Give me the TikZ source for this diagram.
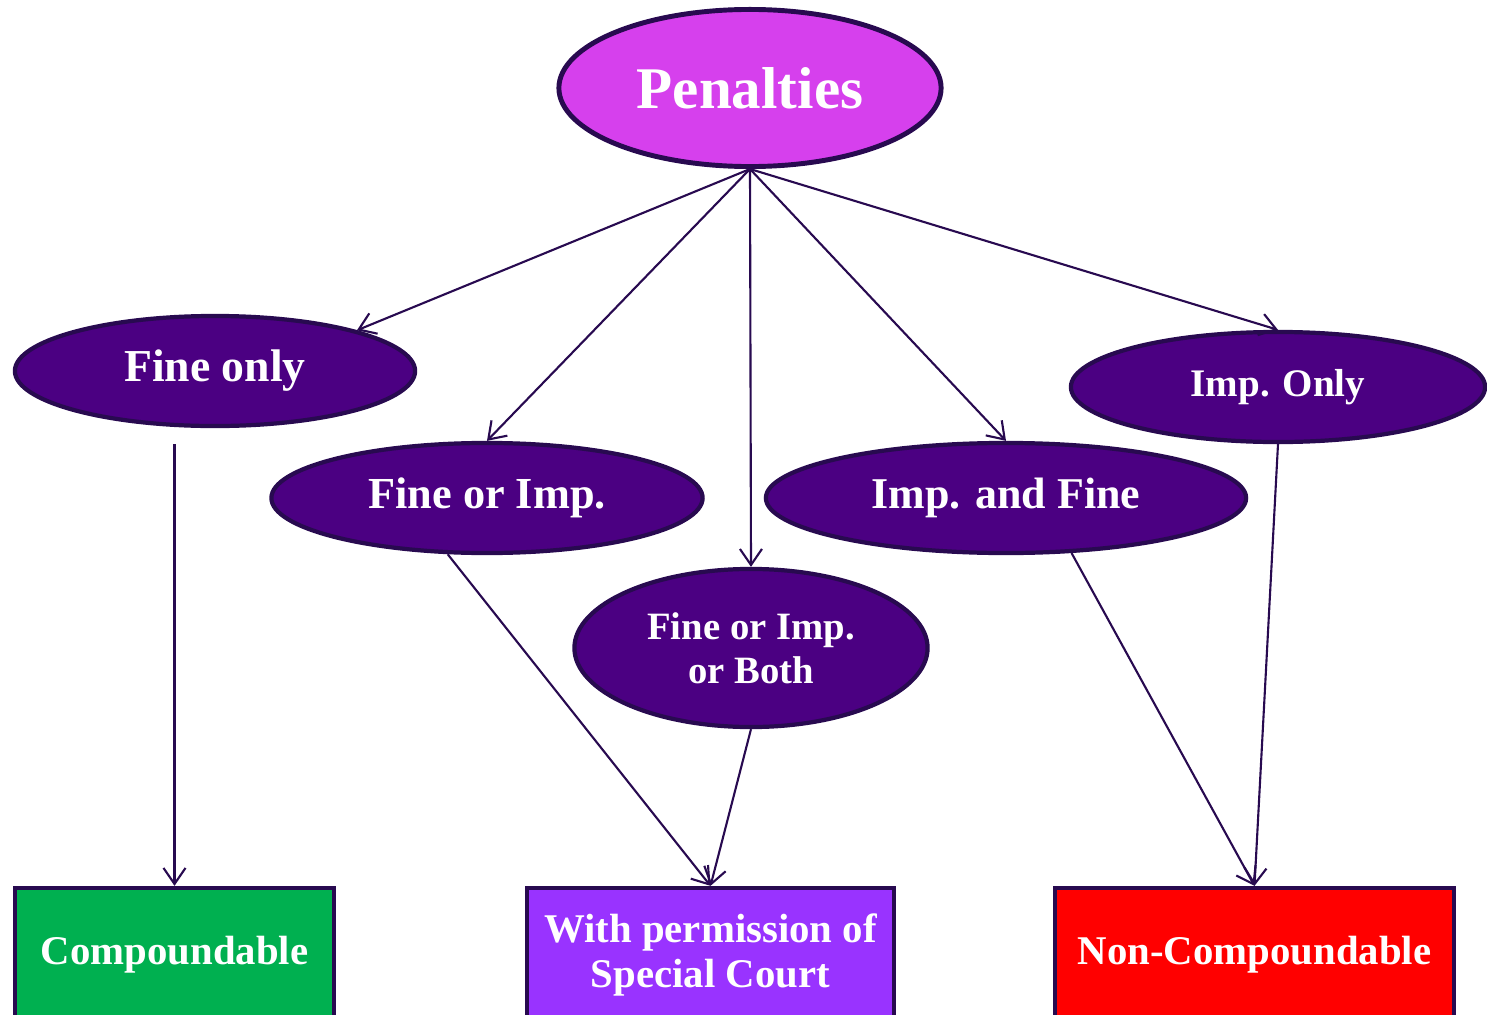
\documentclass[tikz,border=0pt]{standalone}
\usepackage{fontspec}
\setmainfont{Liberation Serif}
\usetikzlibrary{shapes.geometric,arrows.meta}
\definecolor{edgeink}{RGB}{40,10,80}
\definecolor{penmag}{RGB}{214,64,237}
\definecolor{ovalink}{RGB}{75,0,130}
\definecolor{compgreen}{RGB}{0,176,80}
\definecolor{permviolet}{RGB}{153,51,255}
\definecolor{noncompred}{RGB}{255,0,0}

\begin{document}
\begin{tikzpicture}[x=0.01cm,y=-0.01cm,
    oval/.style={ellipse,draw=edgeink,line width=1.2pt,fill=ovalink,text=white,inner sep=0pt},
    outcome/.style={rectangle,draw=edgeink,line width=1.2pt,text=white,inner sep=0pt,
      minimum height=1.34cm,align=center,font=\fontsize{11.6}{12.8}\selectfont\bfseries},
    arr/.style={draw=edgeink,line width=0.6pt,-{Straight Barb[length=1.6mm,width=2.2mm]}}]
  \useasboundingbox (0,0) rectangle (1487,1015);
  \clip (0,0) rectangle (1487,1015);
  % top node
  \node[oval,fill=penmag,line width=1.4pt,minimum width=3.82cm,minimum height=1.57cm,
    font=\fontsize{16.8}{19}\selectfont\bfseries] (pen) at (750,88) {Penalties};
  % kinds of penalty
  \node[oval,minimum width=4.0cm,minimum height=1.1cm,font=\fontsize{13}{15}\selectfont\bfseries]
    (fine) at (215,371) {Fine only};
  \node[oval,minimum width=4.31cm,minimum height=1.1cm,font=\fontsize{12.6}{15}\selectfont\bfseries]
    (fimp) at (487,498) {Fine or Imp.};
  \node[oval,minimum width=3.53cm,minimum height=1.58cm,align=center,
    font=\fontsize{11}{12.6}\selectfont\bfseries] (both) at (751,648) {Fine or Imp.\\or Both};
  \node[oval,minimum width=4.8cm,minimum height=1.1cm,font=\fontsize{12.5}{15}\selectfont\bfseries]
    (iaf) at (1006,498) {Imp. and Fine};
  \node[oval,minimum width=4.14cm,minimum height=1.1cm,font=\fontsize{11.1}{14}\selectfont\bfseries]
    (imponly) at (1278,387) {Imp. Only};
  % outcomes
  \node[outcome,fill=compgreen,minimum width=3.19cm] (comp) at (174.5,955) {Compoundable};
  \node[outcome,fill=permviolet,minimum width=3.67cm] (perm) at (710.5,955)
    {With permission of\\Special Court};
  \node[outcome,fill=noncompred,minimum width=3.99cm] (noncomp) at (1254.5,955) {Non-Compoundable};
  % connectors
  \draw[arr] (pen.south) -- (fine.16);
  \draw[arr] (pen.south) -- (fimp.north);
  \draw[arr] (pen.south) -- (both.north);
  \draw[arr] (pen.south) -- (iaf.north);
  \draw[arr] (pen.south) -- (imponly.north);
  \draw[arr] ([yshift=-0.16cm]fine.south -| comp.north) -- (comp.north);
  \draw[arr] (fimp.235) -- (perm.north);
  \draw[arr] (both.south) -- (perm.north);
  \draw[arr] (iaf.320) -- (noncomp.north);
  \draw[arr] (imponly.south) -- (noncomp.north);
\end{tikzpicture}
\end{document}
